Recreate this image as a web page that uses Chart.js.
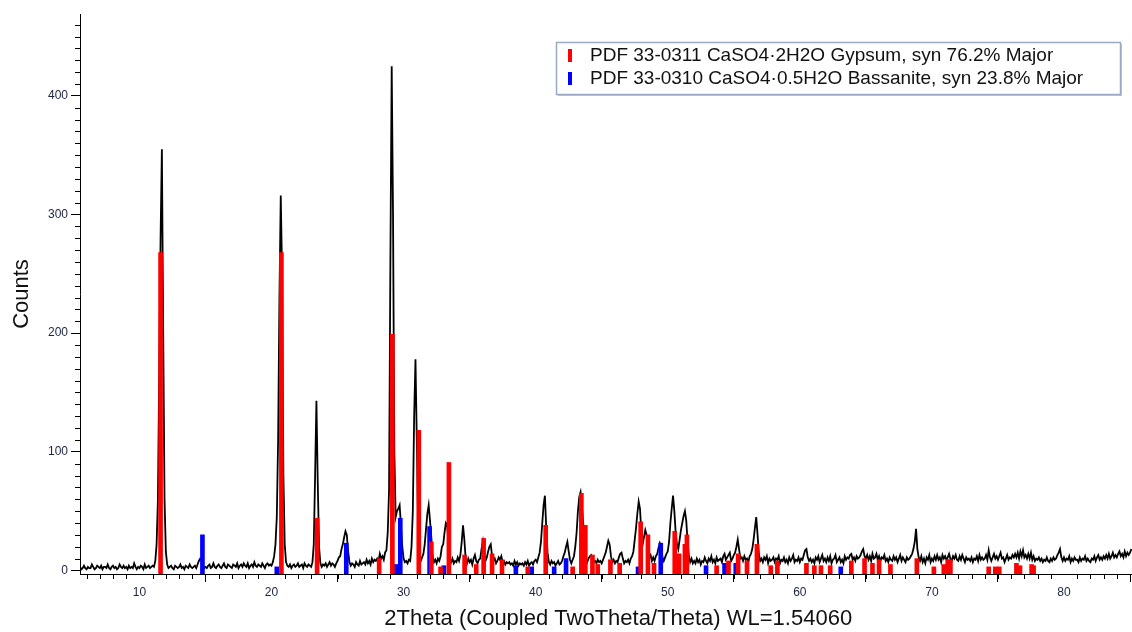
<!DOCTYPE html>
<html>
<head>
<meta charset="utf-8">
<title>XRD pattern - gypsum / bassanite</title>
<script src="https://cdn.jsdelivr.net/npm/chart.js@4.4.0/dist/chart.umd.min.js"></script>
<style>
  html, body { margin: 0; padding: 0; background: #fff; }
  #wrap { width: 1132px; height: 632px; }
</style>
</head>
<body>
<div id="wrap"><canvas id="xrd" width="1132" height="632"></canvas></div>
<script>
// measured scan: 2theta starts at 5.5 deg, 0.1 deg per point
const scanStart = 5.5;
const scanStep = 0.1;
const counts = [
  3, 1, 2, 4, 2,                                   // 5.5
  1, 3, 2, 2, 5, 3, 1, 2, 4, 3,                    // 6
  2, 4, 1, 3, 3, 2, 5, 2, 1, 3,                    // 7
  4, 2, 3, 1, 2, 5, 3, 2, 4, 2,                    // 8
  3, 1, 4, 2, 3, 2, 6, 3, 1, 3,                    // 9
  2, 4, 3, 1, 5, 2, 3, 4, 2, 3,                    // 10
  4, 3, 8, 22, 60, 170, 280, 355, 200, 60,         // 11
  16, 5, 2, 3, 4, 2, 1, 4, 3, 2,                   // 12
  3, 5, 2, 3, 1, 4, 3, 2, 5, 3,                    // 13
  2, 3, 4, 2, 5, 8, 10, 9, 4, 2,                   // 14
  3, 2, 4, 5, 2, 3, 6, 3, 2, 4,                    // 15
  5, 3, 2, 4, 6, 3, 2, 5, 4, 3,                    // 16
  2, 5, 4, 3, 6, 2, 4, 5, 3, 6,                    // 17
  4, 3, 6, 2, 4, 5, 3, 7, 4, 3,                    // 18
  5, 4, 3, 6, 4, 2, 5, 6, 4, 5,                    // 19
  4, 7, 12, 22, 45, 110, 230, 316, 250, 80,        // 20
  22, 7, 4, 3, 5, 2, 4, 5, 3, 4,                   // 21
  6, 3, 4, 5, 2, 6, 4, 3, 5, 4,                    // 22
  3, 7, 22, 80, 143, 75, 20, 6, 3, 5,              // 23
  4, 6, 3, 5, 7, 4, 6, 5, 3, 6,                    // 24
  8, 11, 12, 18, 22, 28, 33, 30, 16, 7,            // 25
  4, 6, 5, 3, 7, 5, 4, 8, 5, 6,                    // 26
  7, 5, 9, 6, 8, 5, 10, 7, 9, 8,                   // 27
  10, 8, 14, 10, 12, 9, 15, 17, 32, 68,            // 28
  260, 425, 300, 100, 45, 50, 52, 55, 38, 20,      // 29
  10, 7, 8, 6, 9, 8, 20, 50, 130, 178,             // 30
  110, 40, 15, 8, 11, 14, 22, 35, 48, 55,          // 31
  42, 28, 12, 7, 9, 6, 10, 8, 12, 20,              // 32
  22, 32, 40, 38, 24, 10, 7, 10, 6, 8,             // 33
  7, 11, 8, 13, 24, 38, 26, 10, 6, 10,             // 34
  7, 9, 5, 10, 13, 8, 6, 9, 10, 18,                // 35
  24, 13, 8, 11, 16, 20, 22, 12, 8, 10,            // 36
  6, 8, 11, 9, 12, 7, 8, 5, 7, 6,                  // 37
  7, 5, 6, 4, 8, 5, 7, 4, 6, 5,                    // 38
  6, 4, 7, 5, 8, 4, 6, 7, 5, 8,                    // 39
  9, 7, 11, 15, 24, 40, 55, 63, 36, 15,            // 40
  7, 5, 8, 6, 7, 4, 6, 8, 5, 6,                    // 41
  8, 12, 15, 20, 24, 16, 9, 6, 9, 12,              // 42
  20, 32, 50, 62, 66, 54, 40, 20, 10, 7,           // 43
  10, 12, 13, 9, 7, 8, 6, 9, 7, 8,                 // 44
  6, 9, 12, 15, 20, 25, 22, 12, 7, 9,              // 45
  6, 8, 7, 11, 14, 15, 10, 6, 8, 7,                // 46
  9, 6, 10, 12, 16, 26, 36, 48, 58, 52,            // 47
  32, 22, 28, 34, 30, 20, 11, 13, 8, 11,           // 48
  8, 12, 14, 19, 23, 20, 11, 8, 11, 14,            // 49
  16, 24, 40, 52, 63, 50, 32, 22, 18, 26,          // 50
  34, 40, 46, 50, 42, 25, 12, 7, 10, 6,            // 51
  8, 6, 10, 7, 9, 5, 8, 7, 11, 8,                  // 52
  6, 10, 8, 12, 7, 9, 6, 11, 8, 9,                 // 53
  10, 7, 12, 14, 9, 11, 13, 15, 8, 10,             // 54
  13, 15, 20, 26, 18, 10, 11, 8, 12, 9,            // 55
  10, 7, 12, 14, 18, 26, 36, 45, 30, 14,           // 56
  8, 10, 7, 11, 9, 12, 6, 10, 8, 9,                // 57
  11, 7, 10, 9, 12, 6, 9, 8, 11, 7,                // 58
  9, 6, 11, 8, 10, 13, 7, 9, 8, 11,                // 59
  7, 10, 9, 13, 17, 18, 11, 8, 10, 7,              // 60
  9, 6, 11, 9, 12, 7, 10, 13, 8, 10,               // 61
  7, 11, 8, 12, 6, 9, 10, 13, 7, 9,                // 62
  11, 7, 9, 6, 12, 9, 11, 10, 13, 14,              // 63
  9, 11, 8, 12, 10, 11, 13, 16, 18, 12,            // 64
  10, 13, 9, 12, 8, 14, 10, 11, 14, 9,             // 65
  12, 8, 11, 10, 13, 8, 10, 7, 11, 9,              // 66
  8, 12, 9, 11, 7, 10, 13, 8, 11, 9,               // 67
  7, 11, 9, 10, 12, 14, 18, 24, 35, 18,            // 68
  11, 8, 12, 7, 10, 6, 11, 9, 13, 7,               // 69
  10, 8, 12, 9, 13, 9, 11, 7, 13, 10,              // 70
  12, 9, 11, 14, 10, 8, 12, 10, 13, 9,             // 71
  8, 12, 9, 13, 10, 7, 11, 9, 10, 8,               // 72
  11, 7, 10, 9, 12, 8, 13, 9, 11, 9,               // 73
  10, 13, 9, 17, 11, 8, 11, 14, 10, 12,            // 74
  9, 12, 15, 10, 11, 7, 10, 13, 9, 11,             // 75
  10, 13, 11, 14, 11, 15, 10, 16, 12, 17,          // 76
  11, 13, 10, 14, 10, 15, 9, 12, 8, 10,            // 77
  9, 11, 8, 10, 7, 9, 8, 11, 8, 7,                 // 78
  10, 8, 11, 9, 10, 13, 15, 18, 11, 8,             // 79
  11, 8, 10, 9, 12, 7, 10, 8, 11, 9,               // 80
  9, 7, 11, 8, 10, 9, 12, 8, 10, 8,                // 81
  7, 10, 9, 12, 8, 11, 13, 9, 11, 9,               // 82
  12, 10, 13, 10, 14, 10, 12, 15, 11, 13,          // 83
  11, 14, 16, 12, 14, 11, 16, 12, 15, 13,          // 84
  15, 18                                           // 85
];

// PDF 33-0311 gypsum stick pattern (scaled)
const gypsumAngle = [11.6, 20.75, 23.45, 28.15, 29.15, 31.15, 32.1, 32.8, 33.43, 34.62,
  35.5, 36.06, 36.7, 37.45, 39.4, 40.76, 42.8, 43.46, 43.76, 44.3,
  44.7, 45.66, 46.36, 47.95, 48.5, 48.96, 50.53, 50.86, 51.3, 51.45,
  53.7, 54.6, 55.33, 56.0, 56.75, 57.8, 58.3, 60.5, 61.1, 61.6,
  62.3, 63.9, 64.9, 65.5, 66.0, 66.86, 68.86, 70.15, 70.9, 71.2,
  71.4, 74.3, 74.8, 75.1, 76.4, 76.67, 77.55, 77.7];
const gypsumHeight = [268, 268, 44, 10, 199, 118, 24, 3, 91, 13,
  5, 27, 14, 9, 3, 38, 3, 65, 38, 13,
  5, 9, 6, 41, 30, 6, 33, 14, 22, 30,
  4, 8, 14, 8, 22, 4, 8, 6, 4, 4,
  4, 8, 10, 6, 9, 5, 10, 3, 5, 9,
  9, 3, 3, 3, 6, 4, 5, 4];

// PDF 33-0310 bassanite stick pattern (scaled)
const bassaniteAngle = [14.77, 20.4, 25.66, 29.4, 29.75, 31.97, 33.05, 38.5, 39.7, 41.4,
  42.3, 47.75, 49.47, 52.9, 54.3, 55.15, 63.1];
const bassaniteHeight = [30, 3, 23, 5, 44, 37, 4, 4, 3, 3,
  10, 3, 23, 4, 6, 6, 3];

const phaseLabels = [
  'PDF 33-0311 CaSO4\u00b72H2O Gypsum, syn 76.2% Major',
  'PDF 33-0310 CaSO4\u00b70.5H2O Bassanite, syn 23.8% Major'
];
const phaseColors = ['#ff0000', '#0000ff'];

const FONT = 'Arial, "Liberation Sans", sans-serif';

function toPoints(xs, ys) {
  return xs.map(function(x, i) { return { x: x, y: ys[i] }; });
}

const scanPoints = counts.map(function(c, i) {
  return { x: +(scanStart + i * scanStep).toFixed(2), y: c };
});

// small ticks between the labelled ones
const minorTicks = {
  id: 'minorTicks',
  afterDraw(chart) {
    const ctx = chart.ctx;
    const xs = chart.scales.x, ys = chart.scales.y;
    const area = chart.chartArea;
    ctx.save();
    ctx.strokeStyle = '#000';
    ctx.lineWidth = 1;
    ctx.beginPath();
    for (let d = 6; d <= 85; d++) {
      if (d % 10 === 0) continue;
      const px = Math.round(xs.getPixelForValue(d)) + 0.5;
      ctx.moveTo(px, area.bottom);
      ctx.lineTo(px, area.bottom + 5);
    }
    for (let c = 10; c <= 460; c += 10) {
      if (c % 100 === 0) continue;
      const py = Math.round(ys.getPixelForValue(c)) + 0.5;
      ctx.moveTo(area.left - 5, py);
      ctx.lineTo(area.left, py);
    }
    ctx.stroke();
    ctx.restore();
  }
};

// boxed legend in the top right corner
const phaseLegend = {
  id: 'phaseLegend',
  afterDraw(chart) {
    const ctx = chart.ctx;
    const bx = 556, by = 42, bw = 564, bh = 52;
    ctx.save();
    ctx.fillStyle = '#bfc5ce';
    ctx.fillRect(bx + 2, by + 2, bw, bh);
    ctx.fillStyle = '#fff';
    ctx.fillRect(bx, by, bw, bh);
    ctx.strokeStyle = '#9aa9c4';
    ctx.lineWidth = 1.5;
    ctx.strokeRect(bx + 0.5, by + 0.5, bw, bh);
    ctx.font = '19px ' + FONT;
    ctx.textBaseline = 'middle';
    chart.data.datasets.forEach(function(ds) {
      if (ds.type !== 'bar') return;
      const cy = by + 13 + ds.legendRow * 23;
      ctx.fillStyle = ds.backgroundColor;
      ctx.fillRect(bx + 12, cy - 6, 4, 13);
      ctx.fillStyle = '#111';
      ctx.fillText(ds.label, bx + 34, cy + 1);
    });
    ctx.restore();
  }
};

new Chart(document.getElementById('xrd').getContext('2d'), {
  type: 'line',
  data: {
    datasets: [
      {
        type: 'bar',
        label: phaseLabels[0],
        legendRow: 0,
        data: toPoints(gypsumAngle, gypsumHeight),
        backgroundColor: phaseColors[0],
        barThickness: 4,
        grouped: false,
        base: -3,
        order: 1
      },
      {
        type: 'bar',
        label: phaseLabels[1],
        legendRow: 1,
        data: toPoints(bassaniteAngle, bassaniteHeight),
        backgroundColor: phaseColors[1],
        barThickness: 4,
        grouped: false,
        base: -3,
        order: 1
      },
      {
        type: 'line',
        label: 'scan',
        data: scanPoints,
        borderColor: '#000',
        borderWidth: 1.8,
        pointRadius: 0,
        tension: 0,
        order: 2
      }
    ]
  },
  options: {
    responsive: false,
    animation: false,
    layout: { padding: { top: 14, right: 0, bottom: 0, left: 0 } },
    plugins: {
      legend: { display: false },
      tooltip: { enabled: false }
    },
    scales: {
      x: {
        type: 'linear',
        min: 5.5,
        max: 85.15,
        offset: false,
        grid: { drawOnChartArea: false, drawTicks: true, tickLength: 8, color: '#000' },
        border: { display: true, color: '#000', width: 1 },
        ticks: {
          stepSize: 10,
          includeBounds: false,
          padding: 3,
          color: '#1c2340',
          font: { family: FONT, size: 12 },
          maxRotation: 0,
          callback: function(v) { return v; }
        },
        title: {
          display: true,
          text: '    2Theta (Coupled TwoTheta/Theta) WL=1.54060',
          color: '#111',
          font: { family: FONT, size: 22 },
          padding: { top: 0, bottom: 0 }
        },
        afterFit: function(scale) { scale.height = 58; }
      },
      y: {
        min: -3,
        max: 469,
        grid: { drawOnChartArea: false, drawTicks: true, tickLength: 9, color: '#000' },
        border: { display: true, color: '#000', width: 1 },
        ticks: {
          stepSize: 100,
          includeBounds: false,
          padding: 3,
          color: '#1c2340',
          font: { family: FONT, size: 12 }
        },
        title: {
          display: true,
          text: 'Counts',
          color: '#111',
          font: { family: FONT, size: 22 },
          padding: { top: 9, bottom: 0 }
        },
        afterFit: function(scale) { scale.width = 80; }
      }
    }
  },
  plugins: [minorTicks, phaseLegend]
});
</script>
</body>
</html>
